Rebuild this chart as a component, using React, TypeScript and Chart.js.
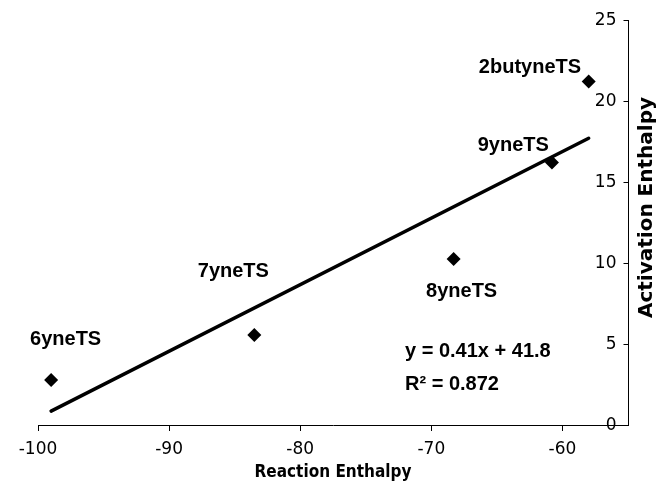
import React, { useEffect, useRef } from "react";
import { Chart, registerables } from "chart.js";

Chart.register(...registerables);

const pointNames = ["6yneTS", "7yneTS", "8yneTS", "9yneTS", "2butyneTS"];
const reactionEnthalpy = [-99.0, -83.5, -68.3, -60.8, -58.0];
const activationEnthalpy = [2.78, 5.56, 10.25, 16.2, 21.2];
const trendX = [-99.0, -58.0];
const trendY = [0.86, 17.7];
const xTickValues = [-100, -90, -80, -70, -60];
const yTickValues = [0, 5, 10, 15, 20, 25];
const equationLines = ["y = 0.41x + 41.8", "R\u00b2 = 0.872"];
const xTitle = "Reaction Enthalpy";
const yTitle = "Activation Enthalpy";

// label offsets relative to each marker (pixels): [dx center, dy baseline]
const labelOffsets: [number, number][] = [
  [14.5, -35],
  [-21, -58],
  [8, 38],
  [-38.7, -11.7],
  [-58.7, -9],
];

const annotPlugin = {
  id: "annot",
  afterDatasetsDraw(chart: any) {
    const ctx = chart.ctx;
    const meta = chart.getDatasetMeta(0);
    const ca = chart.chartArea;
    const ys = chart.scales.y;
    ctx.save();
    // y axis ticks and labels, on the inner side of the right-hand axis
    const axisX = Math.round(ca.right) + 0.5;
    ctx.strokeStyle = "#000";
    ctx.lineWidth = 1;
    ctx.fillStyle = "#000";
    ctx.font = "17px 'DejaVu Sans', Verdana, sans-serif";
    ctx.textAlign = "right";
    ctx.textBaseline = "middle";
    yTickValues.forEach((v) => {
      const py = Math.round(ys.getPixelForValue(v)) + 0.5;
      ctx.beginPath();
      ctx.moveTo(axisX - 5, py);
      ctx.lineTo(axisX, py);
      ctx.stroke();
      ctx.fillText(String(v), axisX - 12, py);
    });
    // point labels
    ctx.font = "bold 20px 'Liberation Sans', Arial, sans-serif";
    ctx.textAlign = "center";
    ctx.textBaseline = "alphabetic";
    meta.data.forEach((el: any, i: number) => {
      const [dx, dy] = labelOffsets[i];
      ctx.fillText(pointNames[i], el.x + dx, el.y + dy);
    });
    ctx.textAlign = "left";
    ctx.fillText(equationLines[0], 405, 357);
    ctx.fillText(equationLines[1], 405, 390);
    // y axis title, reading bottom to top, to the right of the axis
    ctx.font = "bold 20px 'DejaVu Sans', Verdana, sans-serif";
    ctx.translate(647, (ca.top + ca.bottom) / 2 - 15);
    ctx.rotate(-Math.PI / 2);
    ctx.textAlign = "center";
    ctx.textBaseline = "middle";
    ctx.fillText(yTitle, 0, 0);
    ctx.restore();
  },
};

export default function App() {
  const ref = useRef<HTMLCanvasElement>(null);
  useEffect(() => {
    if (!ref.current) return;
    const chart = new Chart(ref.current, {
      type: "scatter",
      data: {
        datasets: [
          {
            label: "points",
            data: reactionEnthalpy.map((x, i) => ({ x, y: activationEnthalpy[i] })),
            pointStyle: "rectRot",
            pointRadius: 7,
            pointBorderWidth: 0,
            backgroundColor: "#000",
            borderColor: "#000",
            showLine: false,
          },
          {
            label: "trend",
            data: trendX.map((x, i) => ({ x, y: trendY[i] })),
            showLine: true,
            borderColor: "#000",
            borderWidth: 3.5,
            borderCapStyle: "round",
            pointRadius: 0,
            fill: false,
          },
        ],
      },
      options: {
        animation: false,
        responsive: false,
        events: [],
        layout: { padding: { left: 38, top: 20, right: 0, bottom: 0 } },
        plugins: { legend: { display: false }, tooltip: { enabled: false } },
        scales: {
          x: {
            type: "linear",
            min: -100,
            max: -55,
            afterBuildTicks: (s: any) => {
              s.ticks = xTickValues.map((v) => ({ value: v }));
            },
            afterFit: (s: any) => {
              s.height = 60;
            },
            ticks: {
              color: "#000",
              font: { family: "'DejaVu Sans', Verdana, sans-serif", size: 17 },
              padding: 8,
              maxRotation: 0,
            },
            grid: {
              drawOnChartArea: false,
              drawTicks: true,
              tickLength: 6,
              color: "#000",
              lineWidth: 1,
            },
            border: { display: true, color: "#000", width: 1 },
            title: {
              display: true,
              text: xTitle,
              color: "#000",
              font: { family: "'DejaVu Sans Condensed', 'DejaVu Sans', sans-serif", size: 17, weight: "bold" },
              padding: { top: 4, bottom: 2 },
            },
          },
          y: {
            type: "linear",
            position: "right",
            min: 0,
            max: 25,
            afterFit: (s: any) => {
              s.width = 28;
            },
            ticks: { display: false },
            grid: { display: false, drawOnChartArea: false, drawTicks: false },
            border: { display: true, color: "#000", width: 1 },
            title: { display: false },
          },
        },
      },
      plugins: [annotPlugin],
    } as any);
    return () => chart.destroy();
  }, []);
  return (
    <div style={{ position: "fixed", left: 0, top: 0, width: 656, height: 485, background: "#fff" }}>
      <canvas ref={ref} width={656} height={485} style={{ display: "block" }} />
    </div>
  );
}
